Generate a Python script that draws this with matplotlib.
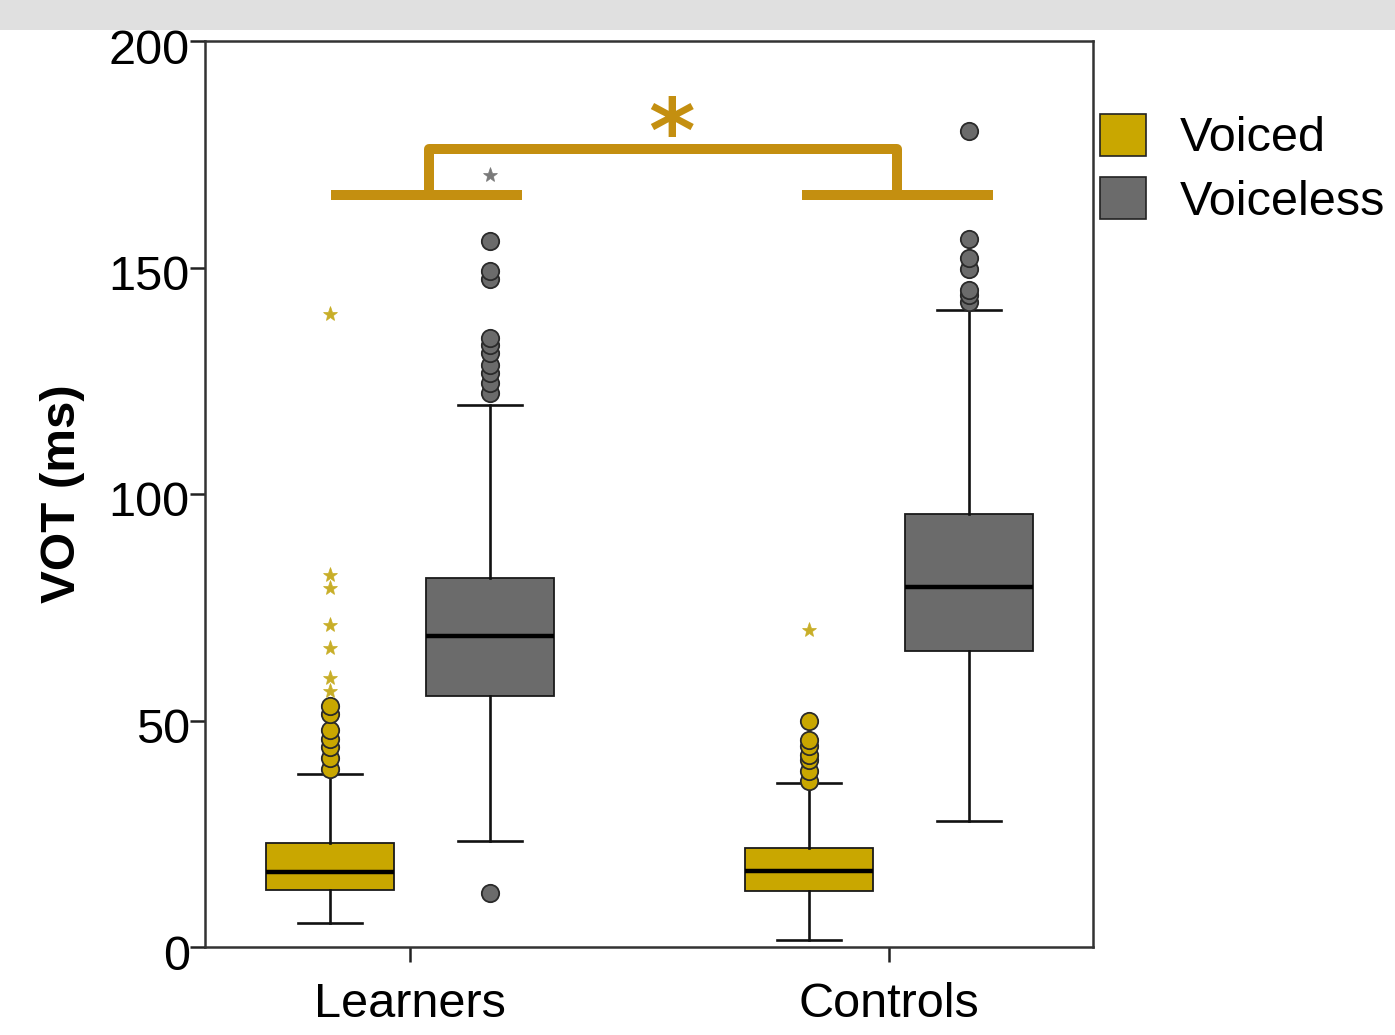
import matplotlib
matplotlib.use("Agg")
import matplotlib.pyplot as plt
from matplotlib.patches import Patch, Rectangle
from matplotlib.transforms import ScaledTranslation

plt.rcParams['font.family'] = ['Liberation Sans', 'DejaVu Sans']

groups = ["Learners", "Controls"]
series = ["Voiced", "Voiceless"]
colors = {"Voiced": "#C9A700", "Voiceless": "#6B6B6B"}
star_colors = {"Voiced": "#C8AE28", "Voiceless": "#7A7A7A"}

# Box statistics (ms): median, q1, q3, lower whisker, upper whisker
stats_table = {
    ("Learners", "Voiced"):    dict(med=16.6, q1=12.6, q3=23.0, whislo=5.3, whishi=38.3),
    ("Learners", "Voiceless"): dict(med=68.6, q1=55.5, q3=81.4, whislo=23.5, whishi=119.7),
    ("Controls", "Voiced"):    dict(med=16.8, q1=12.4, q3=21.9, whislo=1.5, whishi=36.1),
    ("Controls", "Voiceless"): dict(med=79.4, q1=65.3, q3=95.6, whislo=27.9, whishi=140.7),
}

# Outliers (circles) and extreme values (stars)
outliers = {
    ("Learners", "Voiced"):    [39.4, 41.8, 44.2, 46.0, 47.8, 51.5, 53.3],
    ("Learners", "Voiceless"): [11.9, 122.3, 124.5, 126.8, 128.5, 131.2, 133.0, 134.5, 147.5, 149.3, 155.8],
    ("Controls", "Voiced"):    [36.7, 38.9, 41.2, 42.3, 44.3, 45.6, 50.0],
    ("Controls", "Voiceless"): [142.3, 144.0, 145.1, 149.6, 152.2, 156.2, 180.1],
}
extremes = {
    ("Learners", "Voiced"):    [56.6, 59.3, 65.9, 71.0, 79.2, 82.1, 139.8],
    ("Learners", "Voiceless"): [170.4],
    ("Controls", "Voiced"):    [69.9],
    ("Controls", "Voiceless"): [],
}

yticks = [0, 50, 100, 150, 200]
bracket_low, bracket_high = 165.9, 176.1

fig = plt.figure(figsize=(13.95, 10.35), dpi=100)
ax = fig.add_axes([205 / 1395, 1 - 947 / 1035, 888 / 1395, 906 / 1035])

offset = 0.167
width = 0.267
for gi, g in enumerate(groups):
    for si, s in enumerate(series):
        pos = gi + (-offset if si == 0 else offset)
        st = dict(stats_table[(g, s)])
        st["fliers"] = []
        ax.bxp([st], positions=[pos], widths=width, patch_artist=True, showfliers=False,
               capwidths=0.132,
               boxprops=dict(facecolor=colors[s], edgecolor="#1a1a1a", linewidth=1.3),
               medianprops=dict(color="black", linewidth=3.2),
               whiskerprops=dict(color="#111111", linewidth=1.9),
               capprops=dict(color="#111111", linewidth=1.9))
        out = outliers[(g, s)]
        ax.plot([pos] * len(out), out, linestyle="none", marker="o", markersize=12.5,
                markerfacecolor=colors[s], markeredgecolor="#2a2a2a", markeredgewidth=1.3,
                zorder=4)
        ext = extremes[(g, s)]
        ax.plot([pos] * len(ext), ext, linestyle="none", marker="*", markersize=11,
                markerfacecolor=star_colors[s], markeredgecolor=star_colors[s],
                markeredgewidth=0.5, zorder=4)

# Significance bracket between the two groups
gold = "#C48F10"
lw = 7.2
ax.plot([-0.165, 0.234], [bracket_low] * 2, color=gold, lw=lw, solid_capstyle="butt", zorder=3)
ax.plot([1 - 0.182, 1 + 0.217], [bracket_low] * 2, color=gold, lw=lw, solid_capstyle="butt", zorder=3)
ax.plot([0.04, 0.04, 1.017, 1.017], [bracket_low, bracket_high, bracket_high, bracket_low],
        color=gold, lw=lw, solid_joinstyle="round", solid_capstyle="butt", zorder=3)
ax.text(0.546, 178.8, "*", color=gold, fontsize=64, fontweight="bold", ha="center", va="center",
        family=["DejaVu Sans"])

ax.set_xlim(-0.428, 1.426)
ax.set_ylim(0, 200)
ax.set_yticks(yticks)
ax.set_yticklabels([str(v) for v in yticks])
ax.set_xticks([0, 1])
ax.set_xticklabels(groups)
ax.tick_params(axis="both", labelsize=35, length=11, width=1.8, color="#222222")
ax.tick_params(axis="y", pad=0)
ax.tick_params(axis="x", pad=14)
for lab in ax.get_yticklabels():
    lab.set_transform(lab.get_transform() + ScaledTranslation(0, -0.05, fig.dpi_scale_trans))
for sp in ax.spines.values():
    sp.set_color("#333333")
    sp.set_linewidth(1.8)
ax.set_ylabel("VOT (ms)", fontsize=35.5, fontweight="bold", labelpad=17)

handles = [Patch(facecolor=colors[s], edgecolor="#222222", linewidth=1.2, label=s) for s in series]
ax.legend(handles=handles, loc="upper left", bbox_to_anchor=(1.002, 0.925), frameon=False,
          fontsize=35, handlelength=0.95, handleheight=0.95, handletextpad=0.7,
          labelspacing=0.32, borderaxespad=0.0, borderpad=0.1)

# Light grey band across the top edge of the figure
fig.patches.append(Rectangle((0, 1 - 30 / 1035), 1, 30 / 1035, transform=fig.transFigure,
                             facecolor="#E0E0E0", edgecolor="none", zorder=10))

fig.savefig("out.png", dpi=100)
